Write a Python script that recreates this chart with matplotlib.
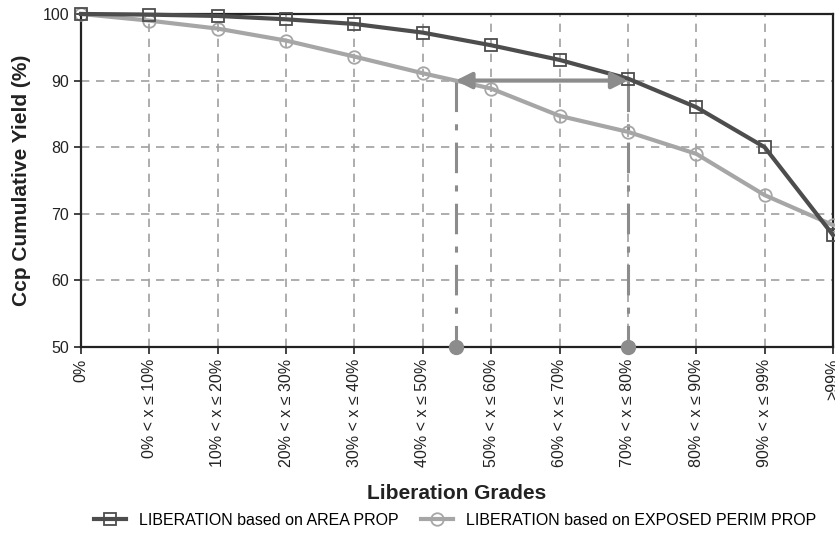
import matplotlib
matplotlib.use("Agg")
import matplotlib.pyplot as plt
import numpy as np

plt.rcParams['font.family'] = ['Liberation Sans', 'DejaVu Sans']

categories = ["0%", "0% < x ≤ 10%", "10% < x ≤ 20%", "20% < x ≤ 30%", "30% < x ≤ 40%",
              "40% < x ≤ 50%", "50% < x ≤ 60%", "60% < x ≤ 70%", "70% < x ≤ 80%",
              "80% < x ≤ 90%", "90% < x ≤ 99%", ">99%"]
area_prop = [100.0, 99.9, 99.7, 99.2, 98.5, 97.2, 95.3, 93.1, 90.3, 86.0, 80.0, 66.8]
perim_prop = [100.0, 99.0, 97.8, 96.0, 93.6, 91.1, 88.8, 84.7, 82.3, 79.0, 72.8, 68.3]
yticks = [50, 60, 70, 80, 90, 100]
target_yield = 90
target_class = "70% < x ≤ 80%"

fig = plt.figure(figsize=(8.35, 5.33), dpi=100)
ax = fig.add_axes([0.097, 0.349, 0.9006, 0.6248])

x = np.arange(len(categories))
dark = "#4d4d4d"
light = "#a6a6a6"

ax.plot(x, area_prop, color=dark, lw=3, marker="s", ms=9, mfc="none", mec=dark,
        mew=1.3, clip_on=False, zorder=4, label="LIBERATION based on AREA PROP")
ax.plot(x, perim_prop, color=light, lw=3, marker="o", ms=9, mfc="none", mec=light,
        mew=1.3, clip_on=False, zorder=3, label="LIBERATION based on EXPOSED PERIM PROP")

# annotation: class reached by AREA curve vs. where PERIM curve reaches the target yield
x_area = categories.index(target_class)
x_perim = np.interp(target_yield, perim_prop[::-1], x[::-1])
ann_col = "#8c8c8c"
ax.annotate("", xy=(x_perim, target_yield), xytext=(x_area, target_yield),
            arrowprops=dict(arrowstyle="<|-|>", color=ann_col, lw=3,
                            mutation_scale=24, shrinkA=0, shrinkB=0), zorder=5)
for xv in (x_perim, x_area):
    ax.plot([xv, xv], [target_yield, 50], color=ann_col, lw=2.2,
            linestyle=(0, (10, 4, 2, 4)), zorder=2)
    ax.plot([xv], [50], marker="o", ms=10, color=ann_col, clip_on=False, zorder=6)

ax.set_xlim(0, len(categories) - 1)
ax.set_ylim(50, 100)
ax.set_xticks(x)
ax.set_xticklabels(categories, rotation=90, fontsize=11.5, color="#222222")
ax.set_yticks(yticks)
ax.set_yticklabels([str(v) for v in yticks], fontsize=11.5, color="#222222")
ax.tick_params(direction="out", length=5, width=1.2, color="#222222")

ax.grid(True, color="#a0a0a0", linestyle=(0, (5, 4)), lw=1.2)
ax.set_axisbelow(True)
for s in ax.spines.values():
    s.set_linewidth(1.6)
    s.set_color("#222222")

ax.set_ylabel("Ccp Cumulative Yield (%)", fontsize=15, fontweight="bold", color="#222222",
              labelpad=8)
ax.set_xlabel("Liberation Grades", fontsize=15, fontweight="bold", color="#222222",
              labelpad=12)

fig.legend(loc="center", bbox_to_anchor=(0.545, 0.024), ncol=2, frameon=False,
           fontsize=11.5, handlelength=2.0, handletextpad=0.8, columnspacing=1.4)

fig.savefig("out.png", dpi=100)
